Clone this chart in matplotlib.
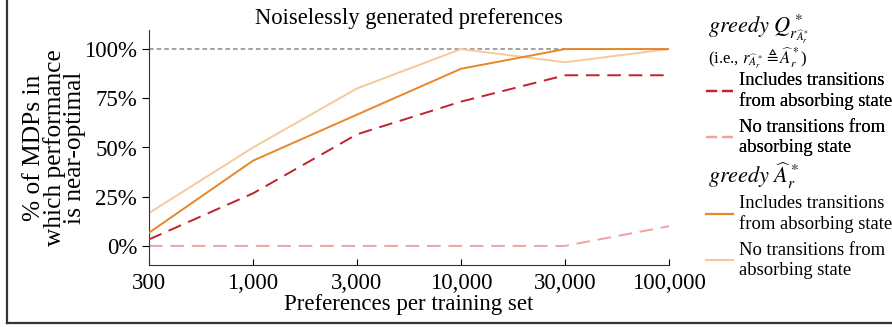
#!/usr/bin/env python3
# coding: utf-8

import numpy as np
import matplotlib
matplotlib.use("Agg")
import matplotlib.pyplot as plt
from matplotlib.lines import Line2D

plt.rcParams['font.family'] = ['Liberation Serif', 'DejaVu Serif']
plt.rcParams['mathtext.fontset'] = 'stix'

# x categories (preferences per training set)
sizes = ["300", "1,000", "3,000", "10,000", "30,000", "100,000"]
# fraction of MDPs with near-optimal performance
q_incl = [0.033, 0.267, 0.567, 0.733, 0.867, 0.867]
q_none = [0.0, 0.0, 0.0, 0.0, 0.0, 0.10]
a_incl = [0.067, 0.433, 0.667, 0.90, 1.0, 1.0]
a_none = [0.167, 0.50, 0.80, 1.0, 0.933, 1.0]
yticks = [0.0, 0.25, 0.5, 0.75, 1.0]

c_dark_red = "#c4202e"
c_pink = "#f2a0a4"
c_orange = "#e8862a"
c_light = "#f5c99c"

W, H = 892, 327
fig = plt.figure(figsize=(W / 100, H / 100), dpi=100)
ax = fig.add_axes([149 / W, 1 - 265 / H, (669 - 149) / W, (265 - 30) / H])

x = np.arange(len(sizes))
ax.axhline(1.0, color="#888888", ls=(0, (3, 2)), lw=1.1, zorder=1)
ax.plot(x, a_none, color=c_light, lw=1.4, zorder=2)
ax.plot(x, a_incl, color=c_orange, lw=1.4, zorder=3)
ax.plot(x, q_none, color=c_pink, lw=1.4, ls=(0, (7, 4)), zorder=2)
ax.plot(x, q_incl, color=c_dark_red, lw=1.4, ls=(0, (7, 4)), zorder=3)

ax.set_xlim(0, len(sizes) - 1)
ax.set_ylim(-0.097, 1.097)
ax.set_xticks(x)
ax.set_xticklabels(sizes)
ax.set_yticks(yticks)
ax.set_yticklabels(["%d%%" % round(v * 100) for v in yticks])
ax.tick_params(axis="x", direction="in", length=4, labelsize=16.5, pad=6)
ax.tick_params(axis="y", direction="out", length=5, labelsize=16.5)
for s in ["top", "right"]:
    ax.spines[s].set_visible(False)
for s in ["left", "bottom"]:
    ax.spines[s].set_color("#333333")

ax.set_title("Noiselessly generated preferences", fontsize=16.3, pad=4)
ax.set_xlabel("Preferences per training set", fontsize=16.5, labelpad=0)
ax.set_ylabel("% of MDPs in\nwhich performance\nis near-optimal", fontsize=18.3,
              linespacing=0.88, labelpad=-1.5)

# legend headers
fig.text(708 / W, 1 - 29 / H,
         r"$greedy\ Q^*_{r_{\widehat{A}^*_r}}$",
         fontsize=16, va="center", ha="left")
fig.text(708 / W, 1 - 58 / H,
         r"(i.e., $r_{\widehat{A}^*_r} \triangleq \widehat{A}^*_r$)",
         fontsize=12, va="center", ha="left")
fig.text(708 / W, 1 - 176 / H,
         r"$greedy\ \widehat{A}^*_r$",
         fontsize=16, va="center", ha="left")

h_q = [Line2D([], [], color=c_dark_red, lw=1.6, ls=(0, (5, 2.2))),
       Line2D([], [], color=c_pink, lw=1.6, ls=(0, (5, 2.2)))]
h_a = [Line2D([], [], color=c_orange, lw=1.6),
       Line2D([], [], color=c_light, lw=1.6)]
labels = ["Includes transitions\nfrom absorbing state",
          "No transitions from\nabsorbing state"]
leg_kw = dict(loc="upper left", frameon=False, fontsize=13.4,
              handlelength=1.45, handletextpad=0.3, labelspacing=0.5,
              borderpad=0, borderaxespad=0)
leg1 = fig.legend(h_q, labels, bbox_to_anchor=(706 / W, 1 - 72 / H), **leg_kw)
fig.add_artist(leg1)
fig.legend(h_a, labels, bbox_to_anchor=(706 / W, 1 - 195 / H), **leg_kw)

# figure border (left and bottom)
fig.add_artist(Line2D([7 / W, 7 / W], [1 - 323 / H, 1.0],
                      transform=fig.transFigure, color="#333333", lw=1.6))
fig.add_artist(Line2D([7 / W, 1.0], [1 - 323 / H, 1 - 323 / H],
                      transform=fig.transFigure, color="#333333", lw=1.6))

fig.savefig("out.png", dpi=100)
